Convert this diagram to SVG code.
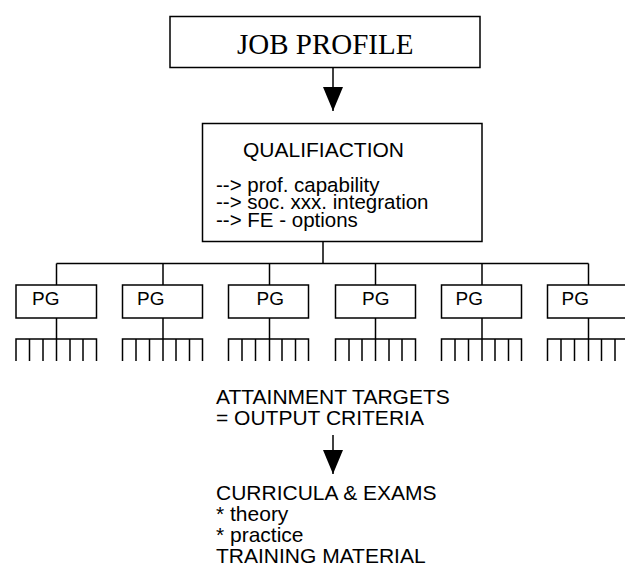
<svg xmlns="http://www.w3.org/2000/svg" width="625" height="565" viewBox="0 0 625 565">
<defs>
<style>
.box{fill:#fff;stroke:#000;stroke-width:1.5}
.ln{fill:none;stroke:#000;stroke-width:1.5}
.sans{font-family:"Liberation Sans",Arial,sans-serif;font-size:21px;fill:#000}
.q{font-family:"Liberation Sans",Arial,sans-serif;font-size:20.5px;fill:#000}
.pg{font-family:"Liberation Sans",Arial,sans-serif;font-size:19px;fill:#000}
.serif{font-family:"Liberation Serif","Times New Roman",serif;font-size:29px;fill:#000}
</style>
<marker id="ah" viewBox="0 0 24 20" refX="24" refY="10" markerWidth="24" markerHeight="20" markerUnits="userSpaceOnUse" orient="auto">
<path d="M0,0 L24,10 L0,20 Z" fill="#000"/>
</marker>
</defs>
<rect width="625" height="565" fill="#fff"/>
<g id="connectors">
<line class="ln" x1="333" y1="68" x2="333" y2="111" marker-end="url(#ah)"/>
<polyline class="ln" points="323,242 323,263.5"/>
<line class="ln" x1="56.5" y1="263.5" x2="588.5" y2="263.5"/>
<line class="ln" x1="56.5" y1="263.5" x2="56.5" y2="285"/>
<line class="ln" x1="163" y1="263.5" x2="163" y2="285"/>
<line class="ln" x1="269.5" y1="263.5" x2="269.5" y2="285"/>
<line class="ln" x1="375.5" y1="263.5" x2="375.5" y2="285"/>
<line class="ln" x1="482" y1="263.5" x2="482" y2="285"/>
<line class="ln" x1="588.5" y1="263.5" x2="588.5" y2="285"/>
<line class="ln" x1="333" y1="435" x2="333" y2="474" marker-end="url(#ah)"/>
</g>
<g id="job-profile">
<rect class="box" x="170" y="16.5" width="310" height="51"/>
<text class="serif" x="237" y="54">JOB PROFILE</text>
</g>
<g id="qualification">
<rect class="box" x="202.5" y="123.5" width="279.5" height="118"/>
<text class="sans" x="243" y="156.5">QUALIFIACTION</text>
<text class="q" x="216" y="191.5">--&gt; prof. capability</text>
<text class="q" x="216" y="209">--&gt; soc. xxx. integration</text>
<text class="q" x="216" y="226.5">--&gt; FE - options</text>
</g>
<g id="pg1">
<rect class="box" x="16" y="285" width="80.5" height="33"/>
<text class="pg" x="32" y="305">PG</text>
<path class="ln" d="M56.5,318 V339 M16,361 V339 H96.5 V361 M29.5,339 V361 M43,339 V361 M56.5,339 V361 M70,339 V361 M83,339 V361"/>
</g>
<g id="pg2">
<rect class="box" x="122.5" y="285" width="80" height="33"/>
<text class="pg" x="137" y="305">PG</text>
<path class="ln" d="M163,318 V339 M122.5,361 V339 H202.5 V361 M136,339 V361 M149.5,339 V361 M163,339 V361 M176,339 V361 M189.5,339 V361"/>
</g>
<g id="pg3">
<rect class="box" x="228.5" y="285" width="80" height="33"/>
<text class="pg" x="256.5" y="305">PG</text>
<path class="ln" d="M269.5,318 V339 M228.5,361 V339 H308.5 V361 M242,339 V361 M255.5,339 V361 M269.5,339 V361 M282,339 V361 M295.5,339 V361"/>
</g>
<g id="pg4">
<rect class="box" x="335.5" y="285" width="80" height="33"/>
<text class="pg" x="362" y="305">PG</text>
<path class="ln" d="M375.5,318 V339 M335.5,361 V339 H415.5 V361 M349,339 V361 M362,339 V361 M375.5,339 V361 M389,339 V361 M402,339 V361"/>
</g>
<g id="pg5">
<rect class="box" x="441.5" y="285" width="80" height="33"/>
<text class="pg" x="455.5" y="305">PG</text>
<path class="ln" d="M482,318 V339 M441.5,361 V339 H521.5 V361 M455,339 V361 M468.5,339 V361 M482,339 V361 M495,339 V361 M508.5,339 V361"/>
</g>
<g id="pg6">
<rect class="box" x="547.5" y="285" width="80" height="33"/>
<text class="pg" x="561.5" y="305">PG</text>
<path class="ln" d="M588.5,318 V339 M547.5,361 V339 H627 M561,339 V361 M574.5,339 V361 M588.5,339 V361 M601.5,339 V361 M615,339 V361"/>
</g>
<g id="attainment-targets">
<text class="sans" x="216" y="403.5">ATTAINMENT TARGETS</text>
<text class="sans" x="216" y="425">= OUTPUT CRITERIA</text>
</g>
<g id="curricula">
<text class="sans" x="216" y="499.5">CURRICULA &amp; EXAMS</text>
<text class="sans" x="216" y="521">* theory</text>
<text class="sans" x="216" y="542">* practice</text>
<text class="sans" x="216" y="563">TRAINING MATERIAL</text>
</g>
</svg>
